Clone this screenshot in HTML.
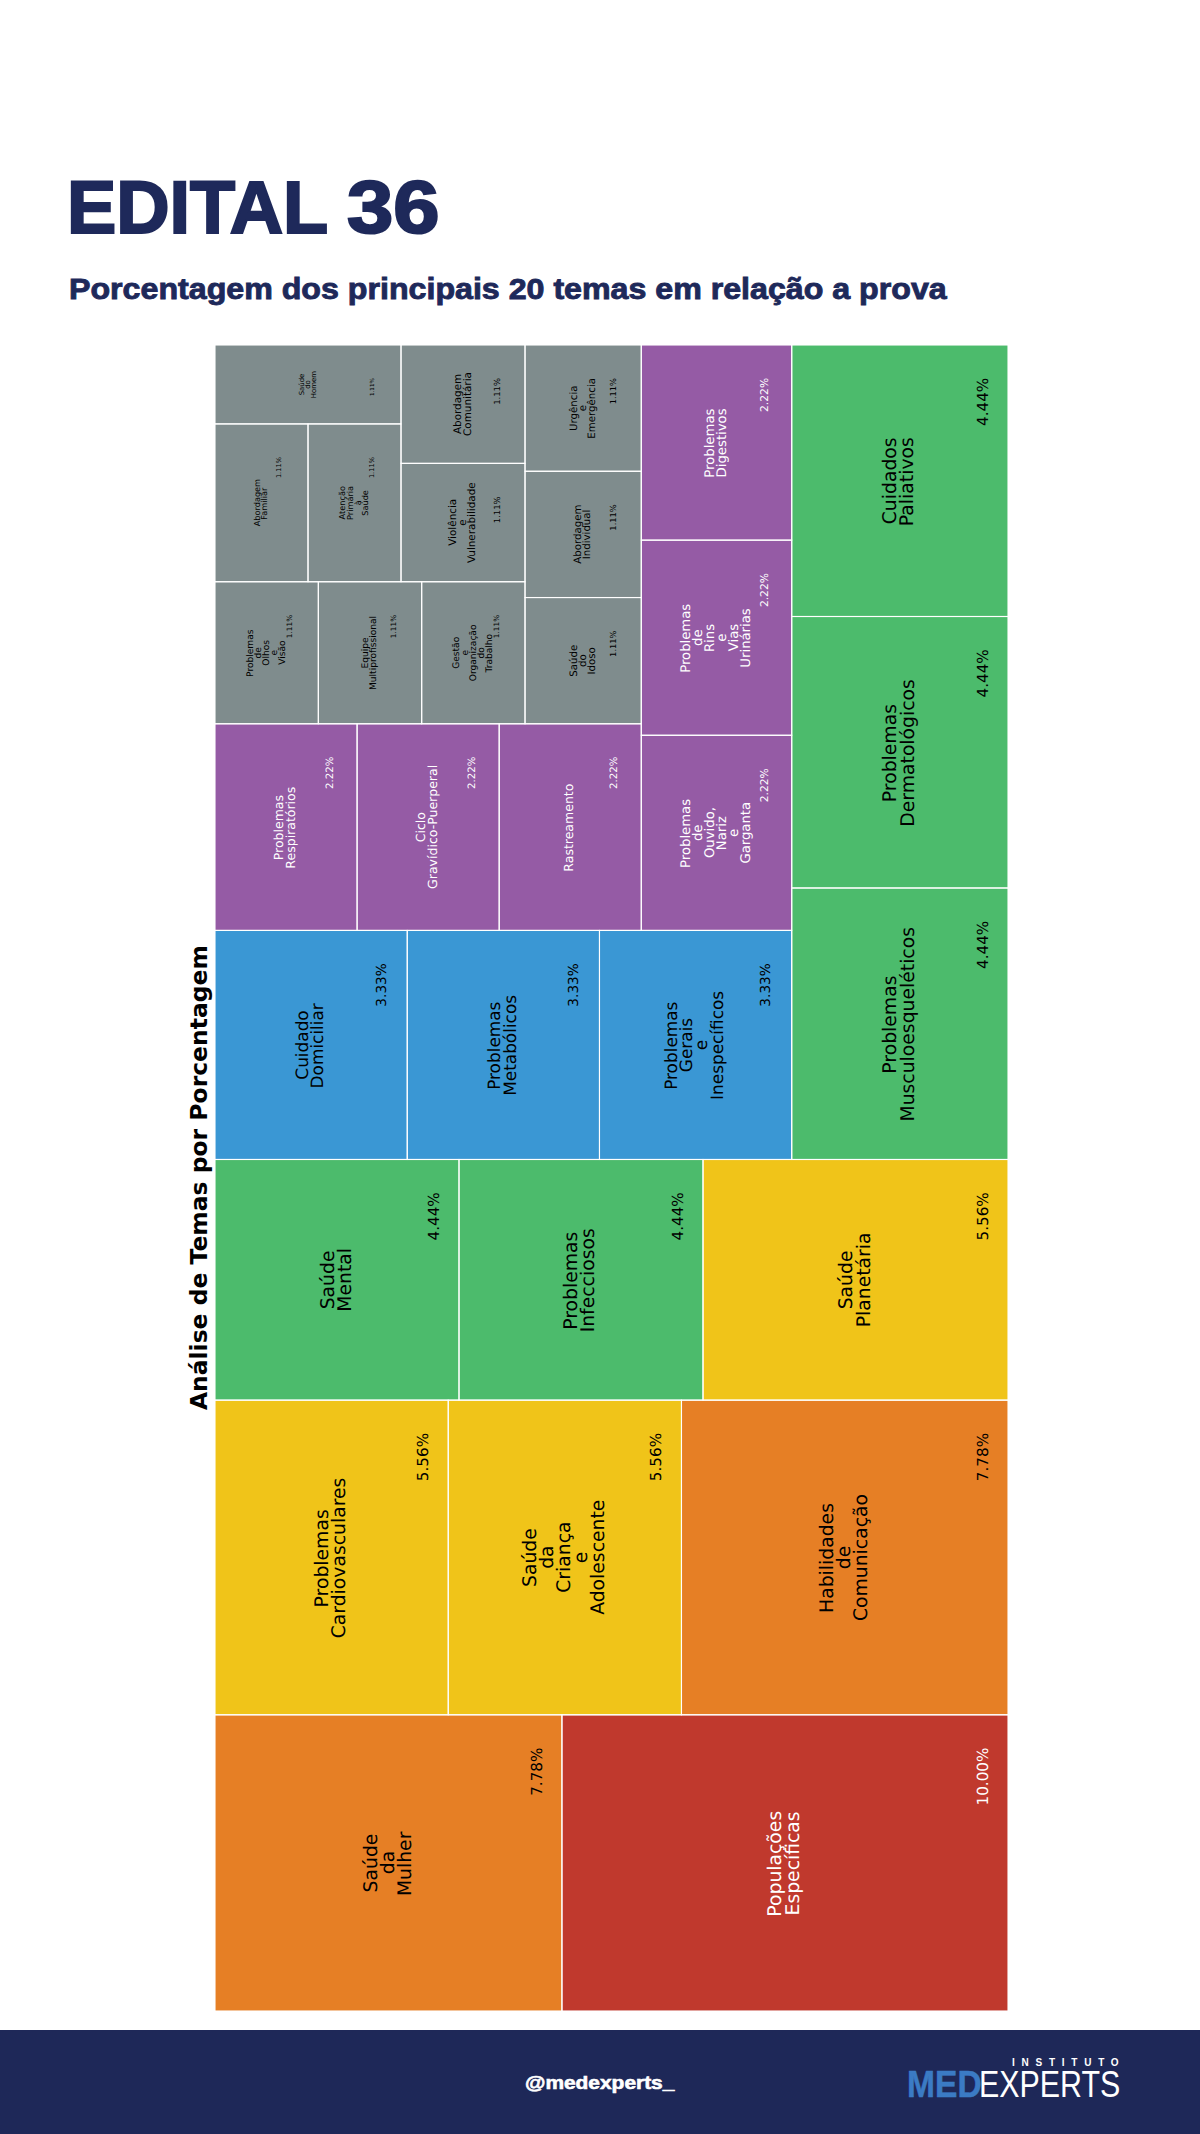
<!DOCTYPE html>
<html lang="pt-BR"><head><meta charset="utf-8"><title>Edital 36</title>
<style>
html,body{margin:0;padding:0;background:#fff}
body{width:1200px;height:2134px;position:relative;overflow:hidden}
.tm{position:absolute;left:0;top:0}
.h1{position:absolute;left:66.8px;top:170.5px;font-family:"Liberation Sans",Arial,sans-serif;font-weight:700;font-size:74px;-webkit-text-stroke:2.2px #1e295a;line-height:1;color:#1e295a;white-space:nowrap;transform-origin:0 0;transform:scaleX(1.030)}
.h2{position:absolute;left:68.5px;top:274px;font-family:"Liberation Sans",Arial,sans-serif;font-weight:700;font-size:29.6px;-webkit-text-stroke:0.9px #1e295a;line-height:1;color:#1e295a;white-space:nowrap;transform-origin:0 0;transform:scaleX(1.0868)}
.foot{position:absolute;left:0;top:2030px;width:1200px;height:104px;background:#1e2858}
.handle{position:absolute;left:525px;top:2073.5px;font-family:"Liberation Sans",Arial,sans-serif;font-weight:700;font-size:18.5px;-webkit-text-stroke:0.6px #fff;line-height:1;color:#fff;white-space:nowrap;transform-origin:0 0;transform:scaleX(1.130)}
.inst{position:absolute;left:1012px;top:2057.5px;font-family:"Liberation Sans",Arial,sans-serif;font-weight:700;font-size:10px;line-height:1;color:#fff;letter-spacing:6.75px;white-space:nowrap}
.med{position:absolute;left:907px;top:2067px;font-family:"Liberation Sans",Arial,sans-serif;font-weight:700;font-size:36px;line-height:1;color:#3b7bc4;-webkit-text-stroke:0.5px #3b7bc4;white-space:nowrap;transform-origin:0 0;transform:scaleX(0.933)}
.exp{position:absolute;left:979px;top:2067px;font-family:"Liberation Sans",Arial,sans-serif;font-weight:400;font-size:36px;line-height:1;color:#fff;white-space:nowrap;transform-origin:0 0;transform:scaleX(0.844)}
#h1a{left:66.6px;transform:scaleX(0.9977)}
#h1b{left:347.3px;transform:scaleX(1.1244)}
</style></head><body>
<div class="h1" id="h1a">EDITAL</div><div class="h1" id="h1b">36</div>
<div class="h2">Porcentagem dos principais 20 temas em relação a prova</div>
<svg class="tm" width="1200" height="2134" viewBox="0 0 1200 2134">
<g><rect x="561.94" y="1714.82" width="446.06" height="296.18" fill="#c0392d"/><rect x="215" y="1714.82" width="346.94" height="296.18" fill="#e67f25"/><rect x="681.47" y="1400.13" width="326.53" height="314.69" fill="#e67f25"/><rect x="448.24" y="1400.13" width="233.24" height="314.69" fill="#f0c419"/><rect x="215" y="1400.13" width="233.24" height="314.69" fill="#f0c419"/><rect x="703" y="1159.49" width="305" height="240.64" fill="#f0c419"/><rect x="459" y="1159.49" width="244" height="240.64" fill="#4cbb6c"/><rect x="215" y="1159.49" width="244" height="240.64" fill="#4cbb6c"/><rect x="791.73" y="345" width="216.27" height="271.5" fill="#4cbb6c"/><rect x="791.73" y="616.5" width="216.27" height="271.5" fill="#4cbb6c"/><rect x="791.73" y="887.99" width="216.27" height="271.5" fill="#4cbb6c"/><rect x="599.48" y="930.41" width="192.24" height="229.07" fill="#3a97d4"/><rect x="407.24" y="930.41" width="192.24" height="229.07" fill="#3a97d4"/><rect x="215" y="930.41" width="192.24" height="229.07" fill="#3a97d4"/><rect x="641.28" y="345" width="150.45" height="195.14" fill="#955ba5"/><rect x="641.28" y="540.14" width="150.45" height="195.14" fill="#955ba5"/><rect x="641.28" y="735.28" width="150.45" height="195.14" fill="#955ba5"/><rect x="499.18" y="723.8" width="142.09" height="206.62" fill="#955ba5"/><rect x="357.09" y="723.8" width="142.09" height="206.62" fill="#955ba5"/><rect x="215" y="723.8" width="142.09" height="206.62" fill="#955ba5"/><rect x="525.02" y="345" width="116.26" height="126.27" fill="#7f8c8d"/><rect x="525.02" y="471.27" width="116.26" height="126.27" fill="#7f8c8d"/><rect x="525.02" y="597.53" width="116.26" height="126.27" fill="#7f8c8d"/><rect x="421.68" y="581.75" width="103.34" height="142.05" fill="#7f8c8d"/><rect x="318.34" y="581.75" width="103.34" height="142.05" fill="#7f8c8d"/><rect x="215" y="581.75" width="103.34" height="142.05" fill="#7f8c8d"/><rect x="401.01" y="345" width="124.01" height="118.37" fill="#7f8c8d"/><rect x="401.01" y="463.37" width="124.01" height="118.37" fill="#7f8c8d"/><rect x="308.01" y="423.92" width="93.01" height="157.83" fill="#7f8c8d"/><rect x="215" y="423.92" width="93.01" height="157.83" fill="#7f8c8d"/><rect x="215" y="345" width="186.01" height="78.92" fill="#7f8c8d"/></g>
<g fill="none" stroke="#fff" stroke-width="1.1"><rect x="561.94" y="1714.82" width="446.06" height="296.18"/><rect x="215" y="1714.82" width="346.94" height="296.18"/><rect x="681.47" y="1400.13" width="326.53" height="314.69"/><rect x="448.24" y="1400.13" width="233.24" height="314.69"/><rect x="215" y="1400.13" width="233.24" height="314.69"/><rect x="703" y="1159.49" width="305" height="240.64"/><rect x="459" y="1159.49" width="244" height="240.64"/><rect x="215" y="1159.49" width="244" height="240.64"/><rect x="791.73" y="345" width="216.27" height="271.5"/><rect x="791.73" y="616.5" width="216.27" height="271.5"/><rect x="791.73" y="887.99" width="216.27" height="271.5"/><rect x="599.48" y="930.41" width="192.24" height="229.07"/><rect x="407.24" y="930.41" width="192.24" height="229.07"/><rect x="215" y="930.41" width="192.24" height="229.07"/><rect x="641.28" y="345" width="150.45" height="195.14"/><rect x="641.28" y="540.14" width="150.45" height="195.14"/><rect x="641.28" y="735.28" width="150.45" height="195.14"/><rect x="499.18" y="723.8" width="142.09" height="206.62"/><rect x="357.09" y="723.8" width="142.09" height="206.62"/><rect x="215" y="723.8" width="142.09" height="206.62"/><rect x="525.02" y="345" width="116.26" height="126.27"/><rect x="525.02" y="471.27" width="116.26" height="126.27"/><rect x="525.02" y="597.53" width="116.26" height="126.27"/><rect x="421.68" y="581.75" width="103.34" height="142.05"/><rect x="318.34" y="581.75" width="103.34" height="142.05"/><rect x="215" y="581.75" width="103.34" height="142.05"/><rect x="401.01" y="345" width="124.01" height="118.37"/><rect x="401.01" y="463.37" width="124.01" height="118.37"/><rect x="308.01" y="423.92" width="93.01" height="157.83"/><rect x="215" y="423.92" width="93.01" height="157.83"/><rect x="215" y="345" width="186.01" height="78.92"/></g>
<g font-family="DejaVu Sans, Liberation Sans, sans-serif" text-rendering="geometricPrecision"><text transform="translate(781.04,1862.91) rotate(-90)" x="-53.78" font-size="18.8" fill="#fff">Populações</text>
<text transform="translate(798.8,1862.91) rotate(-90)" x="-52.58" font-size="18.8" fill="#fff">Específicas</text>
<text transform="translate(987.8,1748.32) rotate(-90)" x="-57.22" font-size="15.23" fill="#fff">10.00%</text>
<text transform="translate(376.62,1862.91) rotate(-90)" x="-29.55" font-size="18.8" fill="#000">Saúde</text>
<text transform="translate(393.64,1862.91) rotate(-90)" x="-11.39" font-size="18.8" fill="#000">da</text>
<text transform="translate(410.65,1862.91) rotate(-90)" x="-33.21" font-size="18.8" fill="#000">Mulher</text>
<text transform="translate(541.74,1748.32) rotate(-90)" x="-47.54" font-size="15.23" fill="#000">7.78%</text>
<text transform="translate(832.52,1557.48) rotate(-90)" x="-55.47" font-size="18.8" fill="#000">Habilidades</text>
<text transform="translate(849.53,1557.48) rotate(-90)" x="-11.77" font-size="18.8" fill="#000">de</text>
<text transform="translate(866.54,1557.48) rotate(-90)" x="-63.62" font-size="18.8" fill="#000">Comunicação</text>
<text transform="translate(987.8,1433.63) rotate(-90)" x="-47.54" font-size="15.23" fill="#000">7.78%</text>
<text transform="translate(535.99,1557.48) rotate(-90)" x="-29.55" font-size="18.8" fill="#000">Saúde</text>
<text transform="translate(553.01,1557.48) rotate(-90)" x="-11.39" font-size="18.8" fill="#000">da</text>
<text transform="translate(570.02,1557.48) rotate(-90)" x="-35.36" font-size="18.8" fill="#000">Criança</text>
<text transform="translate(587.04,1557.48) rotate(-90)" x="-5.8" font-size="18.8" fill="#000">e</text>
<text transform="translate(604.05,1557.48) rotate(-90)" x="-57.39" font-size="18.8" fill="#000">Adolescente</text>
<text transform="translate(661.27,1433.63) rotate(-90)" x="-47.54" font-size="15.23" fill="#000">5.56%</text>
<text transform="translate(327.9,1557.48) rotate(-90)" x="-49.92" font-size="18.8" fill="#000">Problemas</text>
<text transform="translate(344.92,1557.48) rotate(-90)" x="-80.85" font-size="18.8" fill="#000">Cardiovasculares</text>
<text transform="translate(428.03,1433.63) rotate(-90)" x="-47.54" font-size="15.23" fill="#000">5.56%</text>
<text transform="translate(851.79,1279.81) rotate(-90)" x="-29.55" font-size="18.8" fill="#000">Saúde</text>
<text transform="translate(869.55,1279.81) rotate(-90)" x="-47.53" font-size="18.8" fill="#000">Planetária</text>
<text transform="translate(987.8,1192.99) rotate(-90)" x="-47.54" font-size="15.23" fill="#000">5.56%</text>
<text transform="translate(577.29,1279.81) rotate(-90)" x="-49.92" font-size="18.8" fill="#000">Problemas</text>
<text transform="translate(594.3,1279.81) rotate(-90)" x="-52.53" font-size="18.8" fill="#000">Infecciosos</text>
<text transform="translate(682.8,1192.99) rotate(-90)" x="-47.54" font-size="15.23" fill="#000">4.44%</text>
<text transform="translate(333.66,1279.81) rotate(-90)" x="-29.55" font-size="18.8" fill="#000">Saúde</text>
<text transform="translate(350.68,1279.81) rotate(-90)" x="-31.95" font-size="18.8" fill="#000">Mental</text>
<text transform="translate(438.8,1192.99) rotate(-90)" x="-47.54" font-size="15.23" fill="#000">4.44%</text>
<text transform="translate(896.15,480.75) rotate(-90)" x="-43.54" font-size="18.8" fill="#000">Cuidados</text>
<text transform="translate(913.16,480.75) rotate(-90)" x="-45.38" font-size="18.8" fill="#000">Paliativos</text>
<text transform="translate(987.8,378.5) rotate(-90)" x="-47.54" font-size="15.23" fill="#000">4.44%</text>
<text transform="translate(895.77,752.24) rotate(-90)" x="-49.92" font-size="18.8" fill="#000">Problemas</text>
<text transform="translate(913.54,752.24) rotate(-90)" x="-74.46" font-size="18.8" fill="#000">Dermatológicos</text>
<text transform="translate(987.8,650) rotate(-90)" x="-47.54" font-size="15.23" fill="#000">4.44%</text>
<text transform="translate(895.77,1023.74) rotate(-90)" x="-49.92" font-size="18.8" fill="#000">Problemas</text>
<text transform="translate(913.54,1023.74) rotate(-90)" x="-97.81" font-size="18.8" fill="#000">Musculoesqueléticos</text>
<text transform="translate(987.8,921.49) rotate(-90)" x="-47.54" font-size="15.23" fill="#000">4.44%</text>
<text transform="translate(676.62,1044.95) rotate(-90)" x="-44.92" font-size="16.92" fill="#000">Problemas</text>
<text transform="translate(691.93,1044.95) rotate(-90)" x="-27.24" font-size="16.92" fill="#000">Gerais</text>
<text transform="translate(707.24,1044.95) rotate(-90)" x="-5.22" font-size="16.92" fill="#000">e</text>
<text transform="translate(723.22,1044.95) rotate(-90)" x="-55.02" font-size="16.92" fill="#000">Inespecíficos</text>
<text transform="translate(770.39,963.91) rotate(-90)" x="-42.78" font-size="13.7" fill="#000">3.33%</text>
<text transform="translate(499.68,1044.95) rotate(-90)" x="-44.92" font-size="16.92" fill="#000">Problemas</text>
<text transform="translate(515.67,1044.95) rotate(-90)" x="-50.9" font-size="16.92" fill="#000">Metabólicos</text>
<text transform="translate(578.15,963.91) rotate(-90)" x="-42.78" font-size="13.7" fill="#000">3.33%</text>
<text transform="translate(307.78,1044.95) rotate(-90)" x="-34.73" font-size="16.92" fill="#000">Cuidado</text>
<text transform="translate(323.09,1044.95) rotate(-90)" x="-43.47" font-size="16.92" fill="#000">Domiciliar</text>
<text transform="translate(385.91,963.91) rotate(-90)" x="-42.78" font-size="13.7" fill="#000">3.33%</text>
<text transform="translate(713.89,442.57) rotate(-90)" x="-35.16" font-size="13.24" fill="#fff">Problemas</text>
<text transform="translate(725.87,442.57) rotate(-90)" x="-34.84" font-size="13.24" fill="#fff">Digestivos</text>
<text transform="translate(768.18,378.5) rotate(-90)" x="-33.48" font-size="10.72" fill="#fff">2.22%</text>
<text transform="translate(689.66,637.71) rotate(-90)" x="-35.16" font-size="13.24" fill="#fff">Problemas</text>
<text transform="translate(701.64,637.71) rotate(-90)" x="-8.29" font-size="13.24" fill="#fff">de</text>
<text transform="translate(713.62,637.71) rotate(-90)" x="-14.41" font-size="13.24" fill="#fff">Rins</text>
<text transform="translate(725.6,637.71) rotate(-90)" x="-4.09" font-size="13.24" fill="#fff">e</text>
<text transform="translate(737.59,637.71) rotate(-90)" x="-13.6" font-size="13.24" fill="#fff">Vias</text>
<text transform="translate(750.1,637.71) rotate(-90)" x="-29.98" font-size="13.24" fill="#fff">Urinárias</text>
<text transform="translate(768.18,573.64) rotate(-90)" x="-33.48" font-size="10.72" fill="#fff">2.22%</text>
<text transform="translate(689.92,832.84) rotate(-90)" x="-35.16" font-size="13.24" fill="#fff">Problemas</text>
<text transform="translate(701.91,832.84) rotate(-90)" x="-8.29" font-size="13.24" fill="#fff">de</text>
<text transform="translate(713.89,832.84) rotate(-90)" x="-25.24" font-size="13.24" fill="#fff">Ouvido,</text>
<text transform="translate(725.87,832.84) rotate(-90)" x="-17.41" font-size="13.24" fill="#fff">Nariz</text>
<text transform="translate(737.85,832.84) rotate(-90)" x="-4.09" font-size="13.24" fill="#fff">e</text>
<text transform="translate(749.83,832.84) rotate(-90)" x="-30.78" font-size="13.24" fill="#fff">Garganta</text>
<text transform="translate(768.18,768.78) rotate(-90)" x="-33.48" font-size="10.72" fill="#fff">2.22%</text>
<text transform="translate(573.42,827.11) rotate(-90)" x="-44.58" font-size="12.5" fill="#fff">Rastreamento</text>
<text transform="translate(617.29,757.3) rotate(-90)" x="-31.62" font-size="10.13" fill="#fff">2.22%</text>
<text transform="translate(425.42,827.11) rotate(-90)" x="-15.11" font-size="12.5" fill="#fff">Ciclo</text>
<text transform="translate(437.24,827.11) rotate(-90)" x="-61.78" font-size="12.5" fill="#fff">Gravídico-Puerperal</text>
<text transform="translate(475.2,757.3) rotate(-90)" x="-31.62" font-size="10.13" fill="#fff">2.22%</text>
<text transform="translate(283.33,827.11) rotate(-90)" x="-33.2" font-size="12.5" fill="#fff">Problemas</text>
<text transform="translate(295.14,827.11) rotate(-90)" x="-41.53" font-size="12.5" fill="#fff">Respiratórios</text>
<text transform="translate(333.11,757.3) rotate(-90)" x="-31.62" font-size="10.13" fill="#fff">2.22%</text>
<text transform="translate(576.5,408.13) rotate(-90)" x="-22.83" font-size="10.23" fill="#000">Urgência</text>
<text transform="translate(585.76,408.13) rotate(-90)" x="-3.16" font-size="10.23" fill="#000">e</text>
<text transform="translate(595.42,408.13) rotate(-90)" x="-30.51" font-size="10.23" fill="#000">Emergência</text>
<text transform="translate(615.93,378.5) rotate(-90)" x="-25.87" font-size="8.29" fill="#000">1.11%</text>
<text transform="translate(581.13,534.4) rotate(-90)" x="-29.34" font-size="10.23" fill="#000">Abordagem</text>
<text transform="translate(590.39,534.4) rotate(-90)" x="-24.93" font-size="10.23" fill="#000">Individual</text>
<text transform="translate(615.93,504.77) rotate(-90)" x="-25.87" font-size="8.29" fill="#000">1.11%</text>
<text transform="translate(576.7,660.66) rotate(-90)" x="-16.08" font-size="10.23" fill="#000">Saúde</text>
<text transform="translate(585.96,660.66) rotate(-90)" x="-6.38" font-size="10.23" fill="#000">do</text>
<text transform="translate(595.22,660.66) rotate(-90)" x="-13.9" font-size="10.23" fill="#000">Idoso</text>
<text transform="translate(615.93,631.03) rotate(-90)" x="-25.87" font-size="8.29" fill="#000">1.11%</text>
<text transform="translate(459.29,652.77) rotate(-90)" x="-16.05" font-size="9.09" fill="#000">Gestão</text>
<text transform="translate(467.52,652.77) rotate(-90)" x="-2.81" font-size="9.09" fill="#000">e</text>
<text transform="translate(475.75,652.77) rotate(-90)" x="-28.51" font-size="9.09" fill="#000">Organização</text>
<text transform="translate(483.98,652.77) rotate(-90)" x="-5.67" font-size="9.09" fill="#000">do</text>
<text transform="translate(492.21,652.77) rotate(-90)" x="-19.77" font-size="9.09" fill="#000">Trabalho</text>
<text transform="translate(498.99,615.25) rotate(-90)" x="-22.99" font-size="7.37" fill="#000">1.11%</text>
<text transform="translate(368.21,652.77) rotate(-90)" x="-15.79" font-size="9.09" fill="#000">Equipe</text>
<text transform="translate(376.44,652.77) rotate(-90)" x="-37.25" font-size="9.09" fill="#000">Multiprofissional</text>
<text transform="translate(395.65,615.25) rotate(-90)" x="-22.99" font-size="7.37" fill="#000">1.11%</text>
<text transform="translate(252.53,652.77) rotate(-90)" x="-24.15" font-size="9.09" fill="#000">Problemas</text>
<text transform="translate(260.76,652.77) rotate(-90)" x="-5.69" font-size="9.09" fill="#000">de</text>
<text transform="translate(268.99,652.77) rotate(-90)" x="-12.91" font-size="9.09" fill="#000">Olhos</text>
<text transform="translate(277.22,652.77) rotate(-90)" x="-2.81" font-size="9.09" fill="#000">e</text>
<text transform="translate(285.45,652.77) rotate(-90)" x="-12.1" font-size="9.09" fill="#000">Visão</text>
<text transform="translate(292.31,615.25) rotate(-90)" x="-22.99" font-size="7.37" fill="#000">1.11%</text>
<text transform="translate(460.75,404.19) rotate(-90)" x="-29.88" font-size="10.42" fill="#000">Abordagem</text>
<text transform="translate(470.59,404.19) rotate(-90)" x="-31.78" font-size="10.42" fill="#000">Comunitária</text>
<text transform="translate(499.78,378.5) rotate(-90)" x="-26.34" font-size="8.44" fill="#000">1.11%</text>
<text transform="translate(456.45,522.56) rotate(-90)" x="-23.22" font-size="10.42" fill="#000">Violência</text>
<text transform="translate(465.88,522.56) rotate(-90)" x="-3.21" font-size="10.42" fill="#000">e</text>
<text transform="translate(475.31,522.56) rotate(-90)" x="-40.57" font-size="10.42" fill="#000">Vulnerabilidade</text>
<text transform="translate(499.78,496.87) rotate(-90)" x="-26.34" font-size="8.44" fill="#000">1.11%</text>
<text transform="translate(345.06,502.83) rotate(-90)" x="-16.58" font-size="8.18" fill="#000">Atenção</text>
<text transform="translate(352.8,502.83) rotate(-90)" x="-17.14" font-size="8.18" fill="#000">Primária</text>
<text transform="translate(360.53,502.83) rotate(-90)" x="-2.38" font-size="8.18" fill="#000">à</text>
<text transform="translate(368.27,502.83) rotate(-90)" x="-12.87" font-size="8.18" fill="#000">Saúde</text>
<text transform="translate(374.43,457.42) rotate(-90)" x="-20.69" font-size="6.63" fill="#000">1.11%</text>
<text transform="translate(259.89,502.83) rotate(-90)" x="-23.47" font-size="8.18" fill="#000">Abordagem</text>
<text transform="translate(267.29,502.83) rotate(-90)" x="-16.85" font-size="8.18" fill="#000">Familiar</text>
<text transform="translate(281.42,457.42) rotate(-90)" x="-20.69" font-size="6.63" fill="#000">1.11%</text>
<text transform="translate(303.63,384.46) rotate(-90)" x="-10.92" font-size="6.94" fill="#000">Saúde</text>
<text transform="translate(309.91,384.46) rotate(-90)" x="-4.33" font-size="6.94" fill="#000">do</text>
<text transform="translate(316.2,384.46) rotate(-90)" x="-13.68" font-size="6.94" fill="#000">Homem</text>
<text transform="translate(373.69,378.5) rotate(-90)" x="-17.56" font-size="5.63" fill="#000">1.11%</text></g>
<text transform="translate(207.25,1410) rotate(-90)" x="-0.11" font-family="DejaVu Sans, Liberation Sans, sans-serif" font-weight="bold" font-size="23.46" fill="#000">Análise de Temas por Porcentagem</text>
</svg><div class="foot"></div>
<div class="handle">@medexperts_</div>
<div class="inst">INSTITUTO</div>
<div class="med">MED</div>
<div class="exp">EXPERTS</div>
</body></html>
